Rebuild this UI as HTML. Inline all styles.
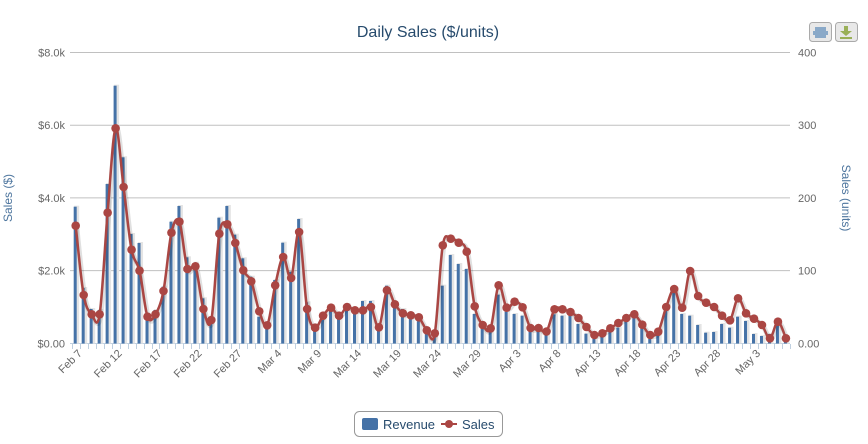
<!DOCTYPE html>
<html><head><meta charset="utf-8"><style>
html,body{margin:0;padding:0;background:#fff;}
svg{display:block;font-family:"Liberation Sans","DejaVu Sans",sans-serif;}
</style></head><body>
<svg id="c" width="868" height="444" xmlns="http://www.w3.org/2000/svg">
<rect width="868" height="444" fill="#fff"/>
<text x="428" y="37" text-anchor="middle" font-size="16" fill="#274b6d">Daily Sales ($/units)</text>
<g id="grid"></g>
<g id="bars"></g>
<g id="line"></g>
<g id="labels" font-size="11" fill="#666"></g>
<text transform="translate(12,198) rotate(-90)" text-anchor="middle" font-size="12" fill="#4d759e">Sales ($)</text>
<text transform="translate(842,198) rotate(90)" text-anchor="middle" font-size="12" fill="#4d759e">Sales (units)</text>
<g>
<rect x="809.5" y="22.5" width="22" height="19" rx="3" fill="#e8e8e8" stroke="#aaa"/>
<rect x="815" y="27" width="11" height="4" fill="#8aa9c8"/><rect x="813" y="31" width="15" height="4" fill="#8aa9c8"/><rect x="815" y="35" width="11" height="3" fill="#8aa9c8"/>
<rect x="835.5" y="22.5" width="22" height="19" rx="3" fill="#e8e8e8" stroke="#aaa"/>
<rect x="844" y="26" width="4" height="6" fill="#9ab058"/><path d="M840 31 L852 31 L846 36 Z" fill="#9ab058"/><rect x="840" y="37" width="12" height="2" fill="#9ab058"/>
</g>
<rect x="354.5" y="411.5" width="148" height="25" rx="5" fill="#fff" stroke="#999"/>
<rect x="362" y="418" width="16" height="12" rx="2" fill="#4572a7"/>
<text x="383" y="429" font-size="13" fill="#274b6d">Revenue</text>
<line x1="441" y1="424" x2="457" y2="424" stroke="#aa4643" stroke-width="2"/>
<circle cx="449" cy="424" r="4" fill="#aa4643"/>
<text x="462" y="429" font-size="13" fill="#274b6d">Sales</text>
</svg>
<script>
var S=[225.7,295,314.3,314.3,212.7,128.3,187,249.7,270.7,316.7,314.3,291,232.7,221.7,269,266.3,309,320,233.7,224.3,243,270.3,281.3,311.3,325.3,285.3,257,278,232,309,327.7,315.7,307.7,315.7,307,310.3,310.3,307,327.3,290.3,304.3,313.3,315.3,317.3,330.3,333.3,245.3,238.7,242.7,251.7,306.3,325,328.3,285.3,307.7,301.7,307.3,328,328,331.5,309.3,309.3,312,318,327,335,333.3,328.3,323,318,314.3,324.7,335,331.7,307,289,307.7,271,296,302.7,307,315.7,320.3,298.3,313.3,318.7,325,338.3,321.7,338.3];
var R=[206.7,288,309,310,184,85.7,157.3,234,243,316,310,286.7,221.7,206,257.3,262.7,298.3,320,217.7,206,234.7,258.3,276.7,316.7,325,280,242.7,271.7,219,302.3,324.3,320,310,318,304,311.7,301,301,325.7,285.7,306.7,309,318.3,321.3,333.3,336.7,285.7,255,264,269,314,328.3,330.7,294.7,311.7,314,315.7,330,330.7,335,314.3,315.7,315.7,324,333.7,339,336.7,332.3,327.7,321.7,318.3,328.3,339,335,310,291.7,314,315.7,325,332.7,332,324,327.7,316.7,321,334,336,334,325,340];
var NS="http://www.w3.org/2000/svg",x0=75.7,dx=7.98,base=343.5;
function el(p,t,a){var e=document.createElementNS(NS,t);for(var k in a)e.setAttribute(k,a[k]);p.appendChild(e);return e;}
var g=document.getElementById('grid'),b=document.getElementById('bars'),l=document.getElementById('line'),lb=document.getElementById('labels');
var gy=[52.5,125.2,197.9,270.6];
gy.forEach(function(y){el(g,'line',{x1:70,x2:790,y1:y,y2:y,stroke:'#c0c0c0','stroke-width':1});});
el(g,'line',{x1:70,x2:790,y1:343.5,y2:343.5,stroke:'#c0d0e0','stroke-width':1});
for(var i=0;i<=90;i++){var tx=Math.round(x0-dx/2+i*dx)+0.5;el(g,'line',{x1:tx,x2:tx,y1:344,y2:349,stroke:'#c0d0e0'});}
var ll=["$8.0k","$6.0k","$4.0k","$2.0k","$0.00"],rl=["400","300","200","100","0.00"];
[52.5,125.2,197.9,270.6,343.5].forEach(function(y,k){var t=el(lb,'text',{x:65,y:y+4,'text-anchor':'end'});t.textContent=ll[k];var t2=el(lb,'text',{x:798,y:y+4});t2.textContent=rl[k];});
var mn=["Jan","Feb","Mar","Apr","May"];
for(var i=0;i<90;i+=5){var dt=new Date(2013,1,7+i);var x=x0+i*dx+7,y=354;var t=el(lb,'text',{x:x,y:y,'text-anchor':'end',transform:'rotate(-45 '+x+' '+y+')'});t.textContent=mn[dt.getMonth()]+" "+dt.getDate();}
for(var i=0;i<90;i++){var x=x0+i*dx;el(b,'rect',{x:x-1.5,y:R[i]-1,width:5,height:base-R[i]+1,fill:'#e4e4e4'});el(b,'rect',{x:x-2,y:R[i],width:3,height:base-R[i],fill:'#4572a7'});}
var P=S.map(function(y,i){return [x0+i*dx,y];});
var d="M"+P[0][0]+" "+P[0][1];
for(var i=0;i<P.length-1;i++){var p0=P[Math.max(i-1,0)],p1=P[i],p2=P[i+1],p3=P[Math.min(i+2,P.length-1)];var s=1/6;
d+=" C"+(p1[0]+(p2[0]-p0[0])*s)+" "+(p1[1]+(p2[1]-p0[1])*s)+" "+(p2[0]-(p3[0]-p1[0])*s)+" "+(p2[1]-(p3[1]-p1[1])*s)+" "+p2[0]+" "+p2[1];}
el(l,'path',{d:d,fill:'none',stroke:'rgba(0,0,0,0.12)','stroke-width':5,transform:'translate(1,1)'});
el(l,'path',{d:d,fill:'none',stroke:'#aa4643','stroke-width':2.5});
P.forEach(function(p){el(l,'circle',{cx:p[0],cy:p[1],r:4.3,fill:'#aa4643'});});
</script>
</body></html>
